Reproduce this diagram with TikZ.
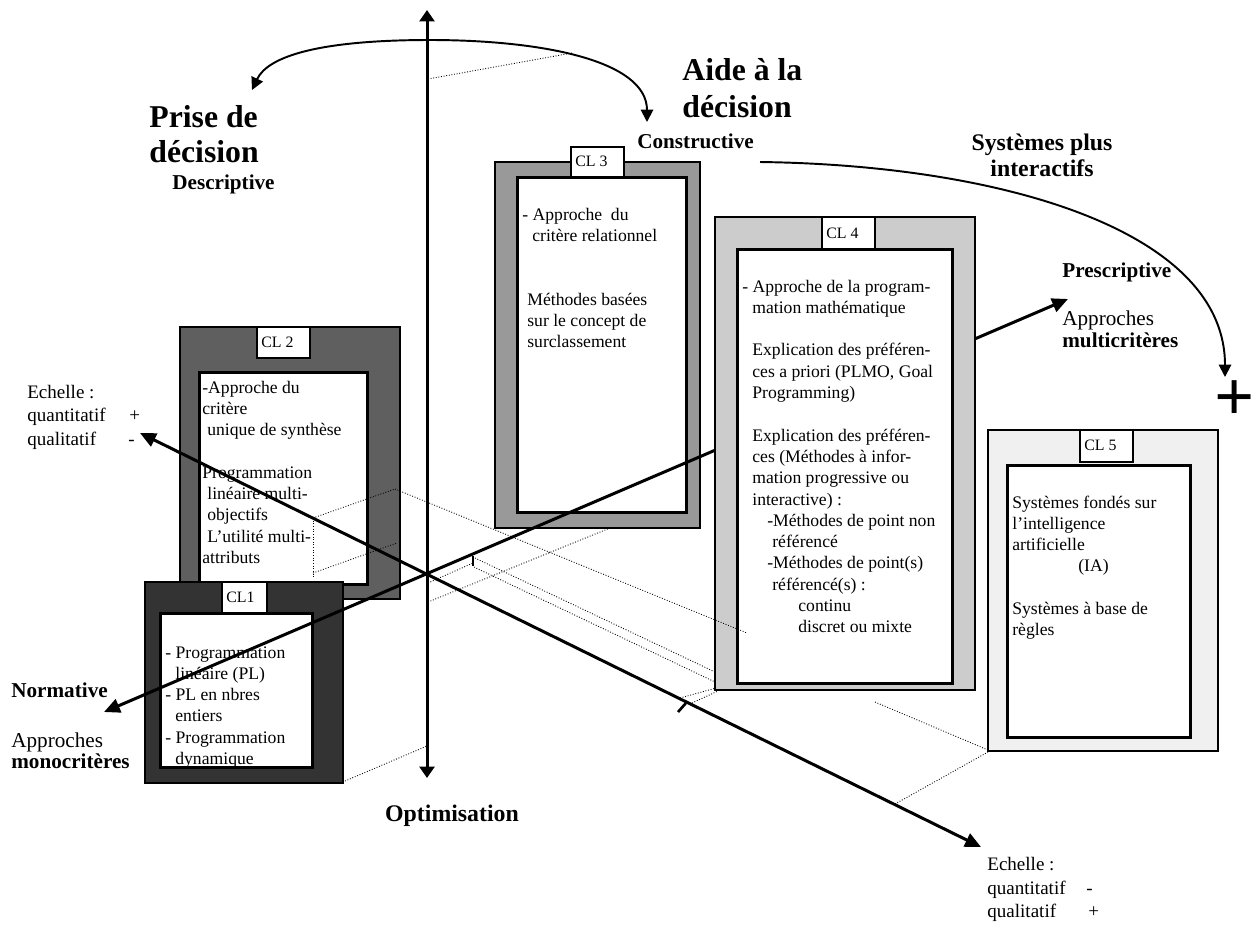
\documentclass[tikz,border=0pt]{standalone}
\usepackage{fontspec}
\setmainfont{Liberation Serif}
\usetikzlibrary{arrows.meta,fit}
\newlength\pxu
\setlength\pxu{0.567pt}
\newcommand\bt{\fontsize{10}{12.08}\selectfont}
\newcommand\clframe[6]{\node[#6, fit={(#2,#3) (#4,#5)}] (#1) {};}
\definecolor{cla}{HTML}{333333}
\definecolor{clb}{HTML}{5F5F5F}
\definecolor{clc}{HTML}{999999}
\definecolor{cld}{HTML}{CCCCCC}
\definecolor{cle}{HTML}{F0F0F0}
\begin{document}
\begin{tikzpicture}[x=0.567pt,y=-0.567pt,
  outerbox/.style={draw=black, line width=1.2pt, inner sep=0pt, outer sep=0pt},
  innerbox/.style={draw=black, line width=1.7pt, fill=white, inner sep=0pt, outer sep=0pt},
  labbox/.style={draw=black, line width=0.8pt, fill=white, inner sep=0pt, outer sep=0pt},
  labtxt/.style={anchor=base west, inner sep=0pt, font=\fontsize{9}{10}\selectfont},
  txt/.style={anchor=base west, inner sep=0pt},
  bigbold/.style={font=\bfseries\fontsize{18}{20.4}\selectfont},
  aidebold/.style={font=\bfseries\fontsize{18}{21.5}\selectfont},
  midbold/.style={font=\bfseries\fontsize{12}{13}\selectfont},
  thickaxis/.style={line width=1.7pt, {Triangle[length=9pt,width=8pt]}-{Triangle[length=9pt,width=8pt]}},
  vaxis/.style={line width=1.7pt, {Triangle[length=6.5pt,width=8.5pt]}-{Triangle[length=6.5pt,width=8.5pt]}},
  curvebi/.style={line width=1.1pt, {Triangle[length=7pt,width=7pt]}-{Triangle[length=7pt,width=7pt]}},
  curveone/.style={line width=1.1pt, -{Triangle[length=7pt,width=7pt]}},
  dotln/.style={line width=0.5pt, densely dotted},
  tickmk/.style={line width=1.5pt}
]
\useasboundingbox (0,0) rectangle (1255,925);
\fill[white] (0,0) rectangle (1255,925);

% coordinates of free arrow ends
\coordinate (tl) at (252,90);
\coordinate (tr) at (647,122);
\coordinate (vtop) at (427,10);
\coordinate (vbot) at (427,778);
\coordinate (ech1) at (140,433);
\coordinate (ech2) at (981,847);
\coordinate (norm1) at (104,712);
\coordinate (norm2) at (1068,299);
\coordinate (sp1) at (760,162);
\coordinate (sp2) at (1225,377);

% top curved double arrow
\draw[curvebi] (tl) .. controls (268,56) and (320,40) .. (430,40) .. controls (540,40) and (647,60) .. (tr);
\draw[dotln] (428,79) -- (572,53);

% CL2
\clframe{cl2}{180}{327}{400}{599}{outerbox, fill=clb}
\clframe{cl2in}{199}{372}{367}{584}{innerbox}
\clframe{cl2lab}{257}{327}{310}{358}{labbox}
\node[labtxt] (cl2labt) at (261,347) {CL 2};
\node[txt] (cl2txt) at (202,393) {\parbox[t]{200\pxu}{\bt\raggedright
-Approche du\\
critère\\
\hspace*{5\pxu}unique de synthèse\\
\mbox{}\\
Programmation\\
\hspace*{5\pxu}linéaire multi-\\
\hspace*{5\pxu}objectifs\\
\hspace*{5\pxu}L’utilité multi-\\
attributs}};

% CL1
\clframe{cl1}{145}{582}{343}{783}{outerbox, fill=cla}
\clframe{cl1in}{160}{613}{312}{767}{innerbox}
\clframe{cl1lab}{222}{582}{267}{613}{labbox}
\node[labtxt] (cl1labt) at (226,602) {CL1};
\begin{scope}
\clip (161,614) rectangle (311,765);
\node[txt] (cl1txt) at (165,658) {\parbox[t]{200\pxu}{\bt\raggedright
- Programmation\\
\hspace*{10\pxu}linéaire (PL)\\
- PL en nbres\\
\hspace*{10\pxu}entiers\\
- Programmation\\
\hspace*{10\pxu}dynamique}};
\end{scope}

% CL3
\clframe{cl3}{495}{162}{700}{528}{outerbox, fill=clc}
\clframe{cl3in}{517}{177}{686}{512}{innerbox}
\clframe{cl3lab}{571}{147}{624}{177}{labbox}
\node[labtxt] (cl3labt) at (575,166) {CL 3};
\node[txt] (cl3txt) at (522,220) {\parbox[t]{200\pxu}{\bt\raggedright
- Approche\ \ du\\
\hspace*{10\pxu}critère relationnel\\
\mbox{}\\
\mbox{}\\
\hspace*{5\pxu}Méthodes basées\\
\hspace*{5\pxu}sur le concept de\\
\hspace*{5\pxu}surclassement}};

% axes
\draw[vaxis] (vtop) -- (vbot);
\draw[thickaxis] (ech1) -- (ech2);
\draw[thickaxis] (norm1) -- (norm2);

% CL4
\clframe{cl4}{715}{217}{975}{690}{outerbox, fill=cld}
\clframe{cl4in}{737}{249}{952}{683}{innerbox}
\clframe{cl4lab}{822}{217}{875}{249}{labbox}
\node[labtxt] (cl4labt) at (826,238) {CL 4};
\node[txt] (cl4txt) at (742,292) {\parbox[t]{220\pxu}{\bt\raggedright
- Approche de la program-\\
\hspace*{10\pxu}mation mathématique\\
\mbox{}\\
\hspace*{10\pxu}Explication des préféren-\\
\hspace*{10\pxu}ces a priori (PLMO, Goal\\
\hspace*{10\pxu}Programming)\\
\mbox{}\\
\hspace*{10\pxu}Explication des préféren-\\
\hspace*{10\pxu}ces (Méthodes à infor-\\
\hspace*{10\pxu}mation progressive ou\\
\hspace*{10\pxu}interactive) :\\
\hspace*{25\pxu}-Méthodes de point non\\
\hspace*{30\pxu}référencé\\
\hspace*{25\pxu}-Méthodes de point(s)\\
\hspace*{30\pxu}référencé(s) :\\
\hspace*{56\pxu}continu\\
\hspace*{56\pxu}discret ou mixte}};

% CL5
\clframe{cl5}{988}{430}{1218}{751}{outerbox, fill=cle}
\clframe{cl5in}{1007}{465}{1190}{737}{innerbox}
\clframe{cl5lab}{1080}{430}{1133}{462}{labbox}
\node[labtxt] (cl5labt) at (1084,450) {CL 5};
\node[txt] (cl5txt) at (1012,508) {\parbox[t]{200\pxu}{\bt\raggedright
Systèmes fondés sur\\
l’intelligence\\
artificielle\\
\hspace*{66\pxu}(IA)\\
\mbox{}\\
Systèmes à base de\\
règles}};

% construction (dotted) lines
\draw[dotln] (313,518) -- (313,577);
\draw[dotln] (313,518) -- (395,489);
\draw[dotln] (313,573) -- (397,543);
\draw[dotln] (395,489) -- (747,633);
\draw[dotln] (428,583) -- (473,563);
\draw[dotln] (428,602) -- (610,528);
\draw[dotln] (475,558) -- (715,672);
\draw[dotln] (474,567) -- (715,682);
\draw[dotln] (680,698) -- (716,688);
\draw[dotln] (692,703) -- (718,691);
\draw[dotln] (875,702) -- (988,750);
\draw[dotln] (895,804) -- (988,752);
\draw[dotln] (345,781) -- (427,746);
\draw[tickmk] (473,556) -- (473,566);
\draw[tickmk] (678,712) -- (686,703);

% right curved arrow
\draw[curveone] (sp1) .. controls (1000,165) and (1225,230) .. (sp2);

% labels
\node[txt, bigbold] (prise) at (149,127) {\parbox[t]{200\pxu}{Prise de\\décision}};
\node[txt, midbold] (descr) at (172,189) {Descriptive};
\node[txt, aidebold] (aide) at (682,80) {\parbox[t]{200\pxu}{Aide à la\\décision}};
\node[txt, midbold] (constr) at (637,148) {Constructive};
\node[anchor=base, inner sep=0pt, font=\bfseries\fontsize{13.5}{15.3}\selectfont] (sysplus) at (1042,150) {\parbox[t]{200\pxu}{\centering Systèmes plus\\interactifs}};
\node[txt, midbold] (presc) at (1062,277) {Prescriptive};
\node[txt, font=\fontsize{12}{13}\selectfont] (appmulti) at (1062,325) {\parbox[t]{150\pxu}{Approches\\\textbf{multicritères}}};
\node[txt, midbold] (normat) at (11,697) {Normative};
\node[txt, font=\fontsize{12}{12}\selectfont] (appmono) at (11,747) {\parbox[t]{150\pxu}{Approches\\\textbf{monocritères}}};
\node[txt, font=\fontsize{10.8}{13.4}\selectfont] (echL) at (27,398) {\parbox[t]{150\pxu}{Echelle :\\\makebox[102\pxu][l]{quantitatif}+\\\makebox[101\pxu][l]{qualitatif}-}};
\node[txt, font=\fontsize{10.8}{13.6}\selectfont] (echR) at (987,870) {\parbox[t]{150\pxu}{Echelle :\\\makebox[99\pxu][l]{quantitatif}-\\\makebox[101\pxu][l]{qualitatif}+}};
\node[anchor=base, inner sep=0pt, font=\bfseries\fontsize{13.5}{15}\selectfont] (optim) at (452,821) {Optimisation};
\node[inner sep=0pt, font=\bfseries\fontsize{40}{40}\selectfont] (plus) at (1235,401) {+};
\end{tikzpicture}
\end{document}
